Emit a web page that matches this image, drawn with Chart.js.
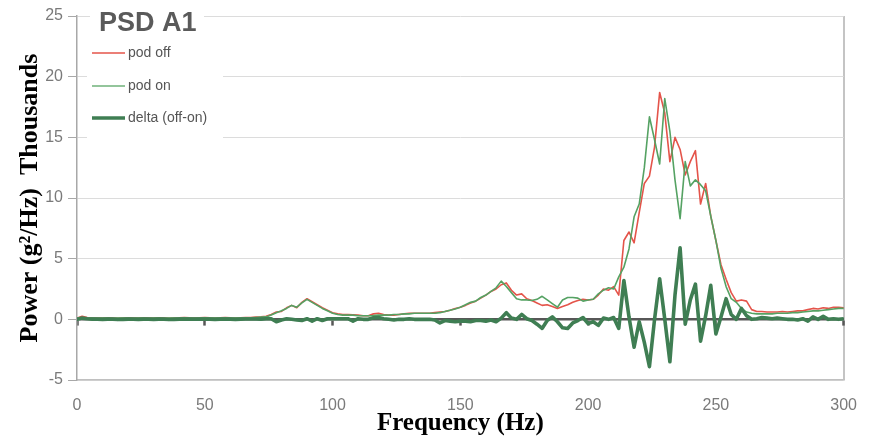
<!DOCTYPE html>
<html>
<head>
<meta charset="utf-8">
<title>PSD A1</title>
<script src="https://cdn.jsdelivr.net/npm/chart.js@4/dist/chart.umd.min.js"></script>
<style>
  html, body { margin: 0; padding: 0; background: #ffffff; }
  canvas { display: block; }
</style>
</head>
<body>
<canvas id="psd" width="873" height="441"></canvas>
<script>
// Spectral lines every 2 Hz, from 0 to 300 Hz. Values in thousands of g^2/Hz.
const FREQ_STEP = 2;

const podOff = [
  0.10, 0.25, 0.15, 0.12, 0.10, 0.10, 0.12, 0.10, 0.08, 0.10,
  0.12, 0.10, 0.10, 0.12, 0.10, 0.10, 0.12, 0.10, 0.08, 0.10,
  0.12, 0.15, 0.12, 0.10, 0.12, 0.15, 0.12, 0.10, 0.12, 0.15,
  0.12, 0.10, 0.12, 0.15, 0.15, 0.18, 0.20, 0.25, 0.40, 0.60,
  0.65, 0.95, 1.15, 0.95, 1.40, 1.70, 1.45, 1.20, 0.95, 0.75,
  0.55, 0.45, 0.40, 0.40, 0.38, 0.35, 0.30, 0.30, 0.45, 0.50,
  0.40, 0.35, 0.35, 0.40, 0.45, 0.50, 0.50, 0.50, 0.50, 0.50,
  0.55, 0.60, 0.65, 0.75, 0.90, 1.00, 1.15, 1.35, 1.50, 1.75,
  2.00, 2.30, 2.50, 2.85, 3.00, 2.40, 2.00, 2.10, 1.70, 1.55,
  1.35, 1.15, 1.20, 1.05, 0.90, 1.05, 1.20, 1.40, 1.55, 1.65,
  1.60, 1.65, 2.00, 2.50, 2.40, 2.70, 2.00, 6.50, 7.20, 6.30,
  8.80, 11.20, 11.80, 14.20, 18.70, 17.00, 13.00, 15.00, 14.00, 11.90,
  13.00, 13.90, 9.50, 11.20, 8.50, 6.50, 4.50, 3.30, 2.20, 1.50,
  1.60, 1.50, 0.80, 0.65, 0.65, 0.60, 0.60, 0.60, 0.65, 0.60,
  0.65, 0.70, 0.70, 0.80, 0.90, 0.85, 0.95, 0.90, 1.00, 1.00,
  0.95
];

const podOn = [
  0.10, 0.12, 0.10, 0.10, 0.08, 0.10, 0.10, 0.08, 0.10, 0.10,
  0.10, 0.08, 0.10, 0.10, 0.08, 0.10, 0.10, 0.08, 0.10, 0.10,
  0.10, 0.12, 0.10, 0.08, 0.10, 0.12, 0.10, 0.10, 0.10, 0.12,
  0.10, 0.10, 0.10, 0.12, 0.12, 0.15, 0.18, 0.20, 0.35, 0.55,
  0.70, 0.90, 1.15, 1.00, 1.35, 1.65, 1.40, 1.15, 0.90, 0.70,
  0.50, 0.40, 0.35, 0.35, 0.35, 0.30, 0.30, 0.30, 0.32, 0.35,
  0.35, 0.35, 0.40, 0.40, 0.45, 0.45, 0.50, 0.50, 0.50, 0.50,
  0.50, 0.55, 0.65, 0.75, 0.85, 1.00, 1.20, 1.40, 1.50, 1.80,
  2.00, 2.30, 2.60, 3.15, 2.70, 2.20, 1.70, 1.60, 1.60, 1.55,
  1.65, 1.90, 1.60, 1.30, 1.00, 1.60, 1.80, 1.80, 1.75, 1.50,
  1.60, 1.65, 2.10, 2.40, 2.60, 2.50, 3.50, 4.30, 5.80, 8.45,
  9.50, 12.50, 16.70, 14.80, 12.80, 18.20, 15.50, 11.50, 8.30, 13.00,
  11.00, 11.50, 11.10, 10.60, 8.50, 6.50, 4.20, 2.70, 1.70, 1.40,
  0.90, 0.60, 0.50, 0.45, 0.45, 0.45, 0.45, 0.50, 0.50, 0.50,
  0.55, 0.55, 0.60, 0.65, 0.70, 0.70, 0.75, 0.80, 0.85, 0.90,
  0.90
];

const delta = [
  0.00, 0.10, 0.05, 0.02, 0.02, 0.00, 0.02, 0.02, -0.02, 0.00,
  0.02, 0.02, 0.00, 0.02, 0.02, 0.00, 0.02, 0.02, -0.02, 0.00,
  0.02, 0.03, 0.02, 0.02, 0.02, 0.03, 0.02, 0.00, 0.02, 0.03,
  0.02, 0.00, 0.02, 0.03, 0.03, 0.03, 0.02, 0.05, 0.05, -0.20,
  -0.05, 0.05, 0.00, -0.05, -0.10, 0.05, -0.15, 0.05, -0.10, 0.05,
  0.05, 0.05, 0.05, 0.05, -0.15, 0.05, 0.00, 0.00, 0.13, 0.15,
  0.05, 0.00, -0.05, 0.00, 0.00, 0.05, 0.00, 0.00, 0.00, 0.00,
  -0.05, -0.30, -0.10, -0.15, -0.20, -0.15, -0.15, -0.20, -0.10, -0.10,
  -0.15, -0.05, -0.20, 0.10, 0.55, 0.10, 0.00, 0.40, 0.05, -0.10,
  -0.40, -0.75, -0.10, 0.20, -0.20, -0.70, -0.75, -0.30, -0.10, 0.15,
  -0.35, -0.20, -0.50, 0.10, 0.00, 0.15, -0.75, 3.20, 0.20, -2.30,
  -0.20, -1.90, -3.90, 0.00, 3.35, 0.00, -3.50, 2.00, 5.90, -0.40,
  1.60, 2.90, -1.80, 0.30, 2.80, -1.20, 0.20, 1.70, 0.40, 0.00,
  0.90, 0.30, 0.00, 0.05, 0.15, 0.10, 0.05, 0.10, 0.05, 0.00,
  0.00, -0.05, 0.05, -0.15, 0.20, 0.00, 0.25, 0.00, 0.05, 0.00,
  0.05
];

const xTicks = [0, 50, 100, 150, 200, 250, 300];
const yTicks = [-5, 0, 5, 10, 15, 20, 25];

const seriesNames = ['pod off', 'pod on', 'delta (off-on)'];
const chartTitle = 'PSD A1';
const xTitle = 'Frequency (Hz)';
const yTitle = 'Power (g\u00B2/Hz)  Thousands';

const toPoints = (vals) => vals.map((v, i) => ({ x: i * FREQ_STEP, y: v }));

const COLORS = {
  off: '#e4544a',
  on: '#55a263',
  delta: '#3f7e53',
  tick: '#7a7a7a',
  grid: '#dcdcdc',
  frame: '#a8a8a8',
  zero: '#575757'
};

// Title and legend sit inside the plot on white panels, Excel style.
const panelText = {
  id: 'panelText',
  beforeDatasetsDraw(chart) {
    const { ctx, chartArea } = chart;
    const L = chartArea.left, T = chartArea.top;
    ctx.save();
    ctx.fillStyle = '#ffffff';
    ctx.fillRect(L + 13, T - 7, 114, 28);
    ctx.fillRect(L + 10, T + 26, 136, 102);

    ctx.fillStyle = '#5a5a5a';
    ctx.font = 'bold 27px "Liberation Sans", Arial, sans-serif';
    ctx.textBaseline = 'middle';
    ctx.textAlign = 'left';
    ctx.fillText(chartTitle, L + 22, T + 8);

    ctx.font = '14px "Liberation Sans", Arial, sans-serif';
    const rows = [T + 37, T + 70, T + 102];
    chart.data.datasets.forEach((ds, i) => {
      const y = rows[i];
      ctx.strokeStyle = ds.legendColor || ds.borderColor;
      ctx.lineWidth = ds.borderWidth;
      ctx.beginPath();
      ctx.moveTo(L + 15, y);
      ctx.lineTo(L + 48, y);
      ctx.stroke();
      ctx.fillStyle = '#555555';
      ctx.fillText(ds.label, L + 51, y);
    });
    ctx.restore();
  }
};

new Chart(document.getElementById('psd'), {
  type: 'line',
  data: {
    datasets: [
      { label: seriesNames[0], data: toPoints(podOff), borderColor: COLORS.off, borderWidth: 1.6, order: 3 },
      { label: seriesNames[1], data: toPoints(podOn), borderColor: COLORS.on, borderWidth: 1.6, order: 2, legendColor: '#6fb27a' },
      { label: seriesNames[2], data: toPoints(delta), borderColor: COLORS.delta, borderWidth: 3.6, order: 1 }
    ].map(d => Object.assign({
      xAxisID: 'x', yAxisID: 'y', pointRadius: 0, tension: 0, fill: false,
      borderJoinStyle: 'round', borderCapStyle: 'round'
    }, d))
  },
  options: {
    responsive: false,
    animation: false,
    devicePixelRatio: 1,
    layout: { padding: { top: 16, right: 17, left: 0, bottom: 0 } },
    plugins: { legend: { display: false }, tooltip: { enabled: false }, title: { display: false } },
    scales: {
      x: {
        type: 'linear',
        position: 'bottom',
        min: xTicks[0],
        max: xTicks[xTicks.length - 1],
        afterBuildTicks: (s) => { s.ticks = xTicks.map(v => ({ value: v })); },
        ticks: { color: COLORS.tick, padding: 16, font: { family: '"Liberation Sans", Arial', size: 16 } },
        grid: {
          drawTicks: false,
          color: (c) => (c.tick && c.tick.value === xTicks[xTicks.length - 1]) ? '#c4c4c4' : 'rgba(0,0,0,0)',
          lineWidth: 2
        },
        border: { display: true, color: '#c0c0c0', width: 1.5 },
        title: {
          display: true, text: xTitle, color: '#000',
          font: { family: '"Liberation Serif", "Times New Roman", serif', weight: 'bold', size: 25 },
          padding: { top: 0, bottom: 2 }
        },
        afterFit: (s) => { s.height = 61; }
      },
      xZero: {
        axis: 'x',
        type: 'linear',
        position: { y: 0 },
        min: xTicks[0],
        max: xTicks[xTicks.length - 1],
        afterBuildTicks: (s) => { s.ticks = xTicks.map(v => ({ value: v })); },
        ticks: { display: false },
        grid: { drawOnChartArea: false, drawTicks: true, tickLength: 5, tickColor: COLORS.zero, tickWidth: 2.5 },
        border: { display: true, color: COLORS.zero, width: 2.6 }
      },
      y: {
        type: 'linear',
        position: 'left',
        min: yTicks[0],
        max: yTicks[yTicks.length - 1],
        afterBuildTicks: (s) => { s.ticks = yTicks.map(v => ({ value: v })); },
        ticks: { color: COLORS.tick, padding: 5, font: { family: '"Liberation Sans", Arial', size: 16 } },
        grid: { color: COLORS.grid, lineWidth: 1, tickLength: 9, tickColor: COLORS.frame },
        border: { display: true, color: COLORS.frame, width: 1.5 },
        title: {
          display: true, text: yTitle, color: '#000',
          font: { family: '"Liberation Serif", "Times New Roman", serif', weight: 'bold', size: 26 },
          padding: { top: 15, bottom: 0 }
        },
        afterFit: (s) => { s.width = 77; }
      }
    }
  },
  plugins: [panelText]
});
</script>
</body>
</html>
